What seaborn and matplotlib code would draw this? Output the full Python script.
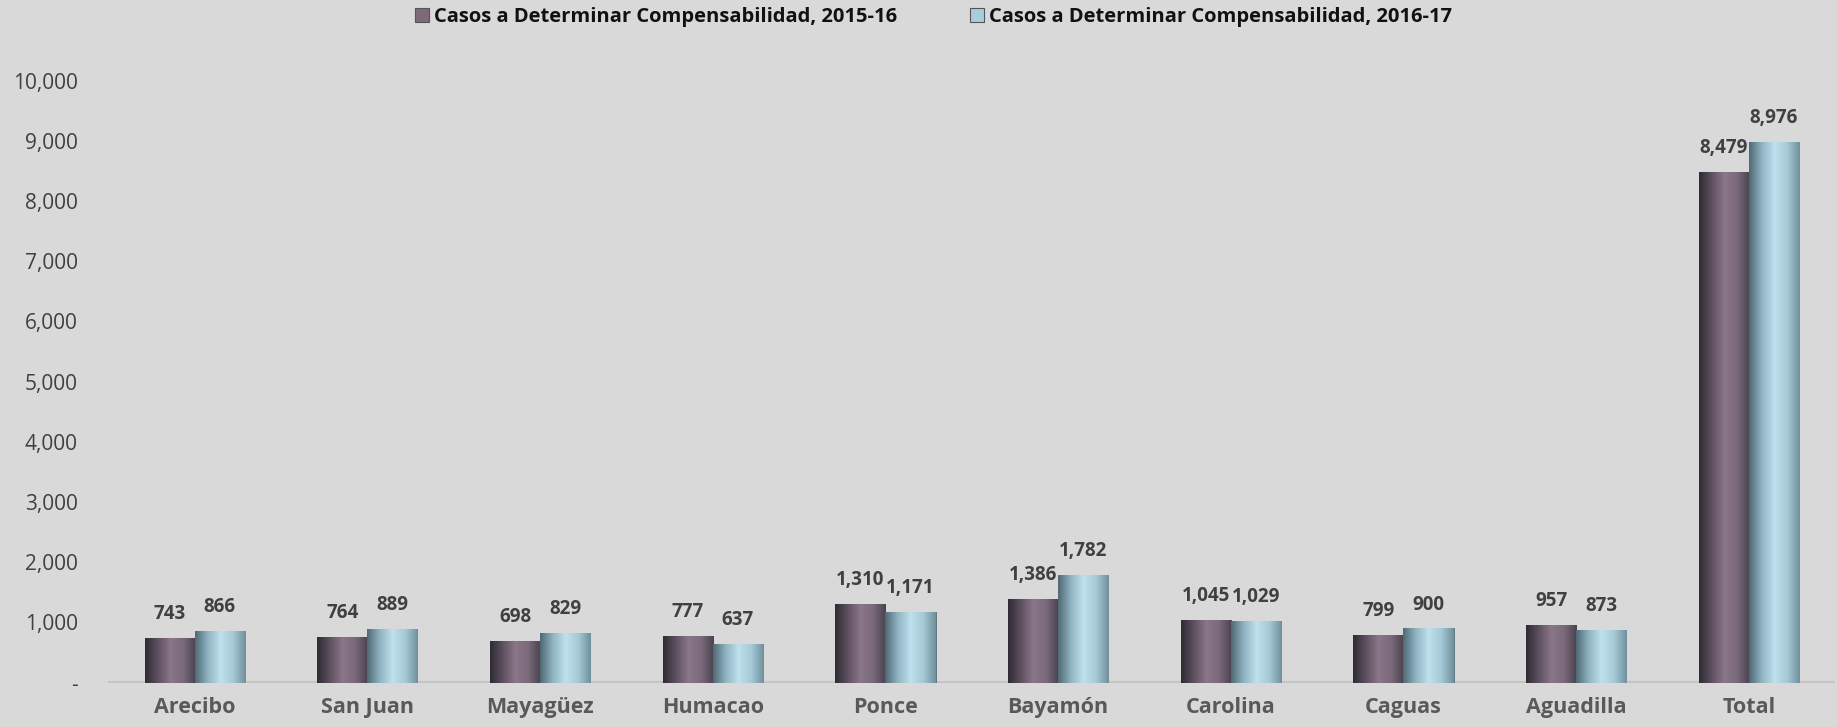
import matplotlib

matplotlib.use("Agg")

import matplotlib.pyplot as plt
import matplotlib.ticker as mticker
from matplotlib.colors import LinearSegmentedColormap
import numpy as np
import pandas as pd
import seaborn as sns

regiones = ["Arecibo", "San Juan", "Mayagüez", "Humacao", "Ponce",
            "Bayamón", "Carolina", "Caguas", "Aguadilla", "Total"]
casos_2015_16 = [743, 764, 698, 777, 1310, 1386, 1045, 799, 957, 8479]
casos_2016_17 = [866, 889, 829, 637, 1171, 1782, 1029, 900, 873, 8976]
series = ["Casos a Determinar Compensabilidad, 2015-16",
          "Casos a Determinar Compensabilidad, 2016-17"]

BG = "#d9d9d9"
COLORS = ["#7d6b7b", "#a8cedc"]
# dark edge -> base -> highlight -> base -> dark edge, to fake a cylinder
GRADS = [
    ["#2e2a33", "#5e505f", "#8a7789", "#7a6a7a", "#4a4250"],
    ["#4f6873", "#8fb3c2", "#bfe0ec", "#a6cad8", "#6f8f9b"],
]

df = pd.DataFrame({
    "region": regiones * 2,
    "casos": casos_2015_16 + casos_2016_17,
    "serie": [series[0]] * len(regiones) + [series[1]] * len(regiones),
})

sns.set_theme(style="white")
plt.rcParams["font.family"] = ["Open Sans", "DejaVu Sans"]

fig = plt.figure(figsize=(18.37, 7.27), dpi=100, facecolor=BG)
ax = fig.add_axes([0.059, 0.061, 0.94, 0.828])
ax.set_facecolor(BG)

sns.barplot(data=df, x="region", y="casos", hue="serie", order=regiones,
            hue_order=series, palette=COLORS, width=0.58, dodge=True,
            saturation=1, ax=ax, legend=True)

# cylinder-ish shading on each bar
for ci, cont in enumerate(ax.containers):
    cmap = LinearSegmentedColormap.from_list(f"g{ci}", GRADS[ci])
    grad = np.linspace(0, 1, 256).reshape(1, -1)
    for bar in cont:
        x0, y0 = bar.get_x(), bar.get_y()
        w, h = bar.get_width(), bar.get_height()
        bar.set_edgecolor(GRADS[ci][0])
        bar.set_linewidth(0.6)
        im = ax.imshow(grad, extent=[x0, x0 + w, y0, y0 + h], aspect="auto",
                       cmap=cmap, zorder=bar.get_zorder() + 0.1)
        im.set_clip_path(bar)

for cont in ax.containers:
    ax.bar_label(cont, labels=[f"{v:,.0f}" for v in cont.datavalues],
                 padding=10, fontsize=13.5, fontweight="bold", color="#404040")

ax.set_xlim(-0.5, len(regiones) - 0.5)
ax.set_ylim(0, 10000)
ax.yaxis.set_major_locator(mticker.MultipleLocator(1000))
ax.yaxis.set_major_formatter(
    mticker.FuncFormatter(lambda v, _: "-" if v == 0 else f"{v:,.0f}"))
ax.tick_params(axis="y", labelsize=15, labelcolor="#404040", length=0, pad=22)
ax.tick_params(axis="x", labelsize=15.5, labelcolor="#595959", length=0, pad=10)
for t in ax.get_xticklabels():
    t.set_fontweight("bold")
ax.set_xlabel("")
ax.set_ylabel("")
for s in ax.spines.values():
    s.set_visible(False)
ax.axhline(0, color="#c4c4c4", lw=3, zorder=0)

handles, labels = ax.get_legend_handles_labels()
ax.get_legend().remove()
leg = fig.legend(handles, labels, loc="center", bbox_to_anchor=(0.508, 0.976),
                 ncol=2, frameon=False, fontsize=14.5, handlelength=0.7,
                 handleheight=0.7, handletextpad=0.25, columnspacing=3.6)
for t in leg.get_texts():
    t.set_fontweight("bold")
    t.set_color("#111111")
for h in leg.legend_handles:
    h.set_edgecolor("#555555")
    h.set_linewidth(0.8)

fig.savefig("out.png", dpi=100, facecolor=BG)
